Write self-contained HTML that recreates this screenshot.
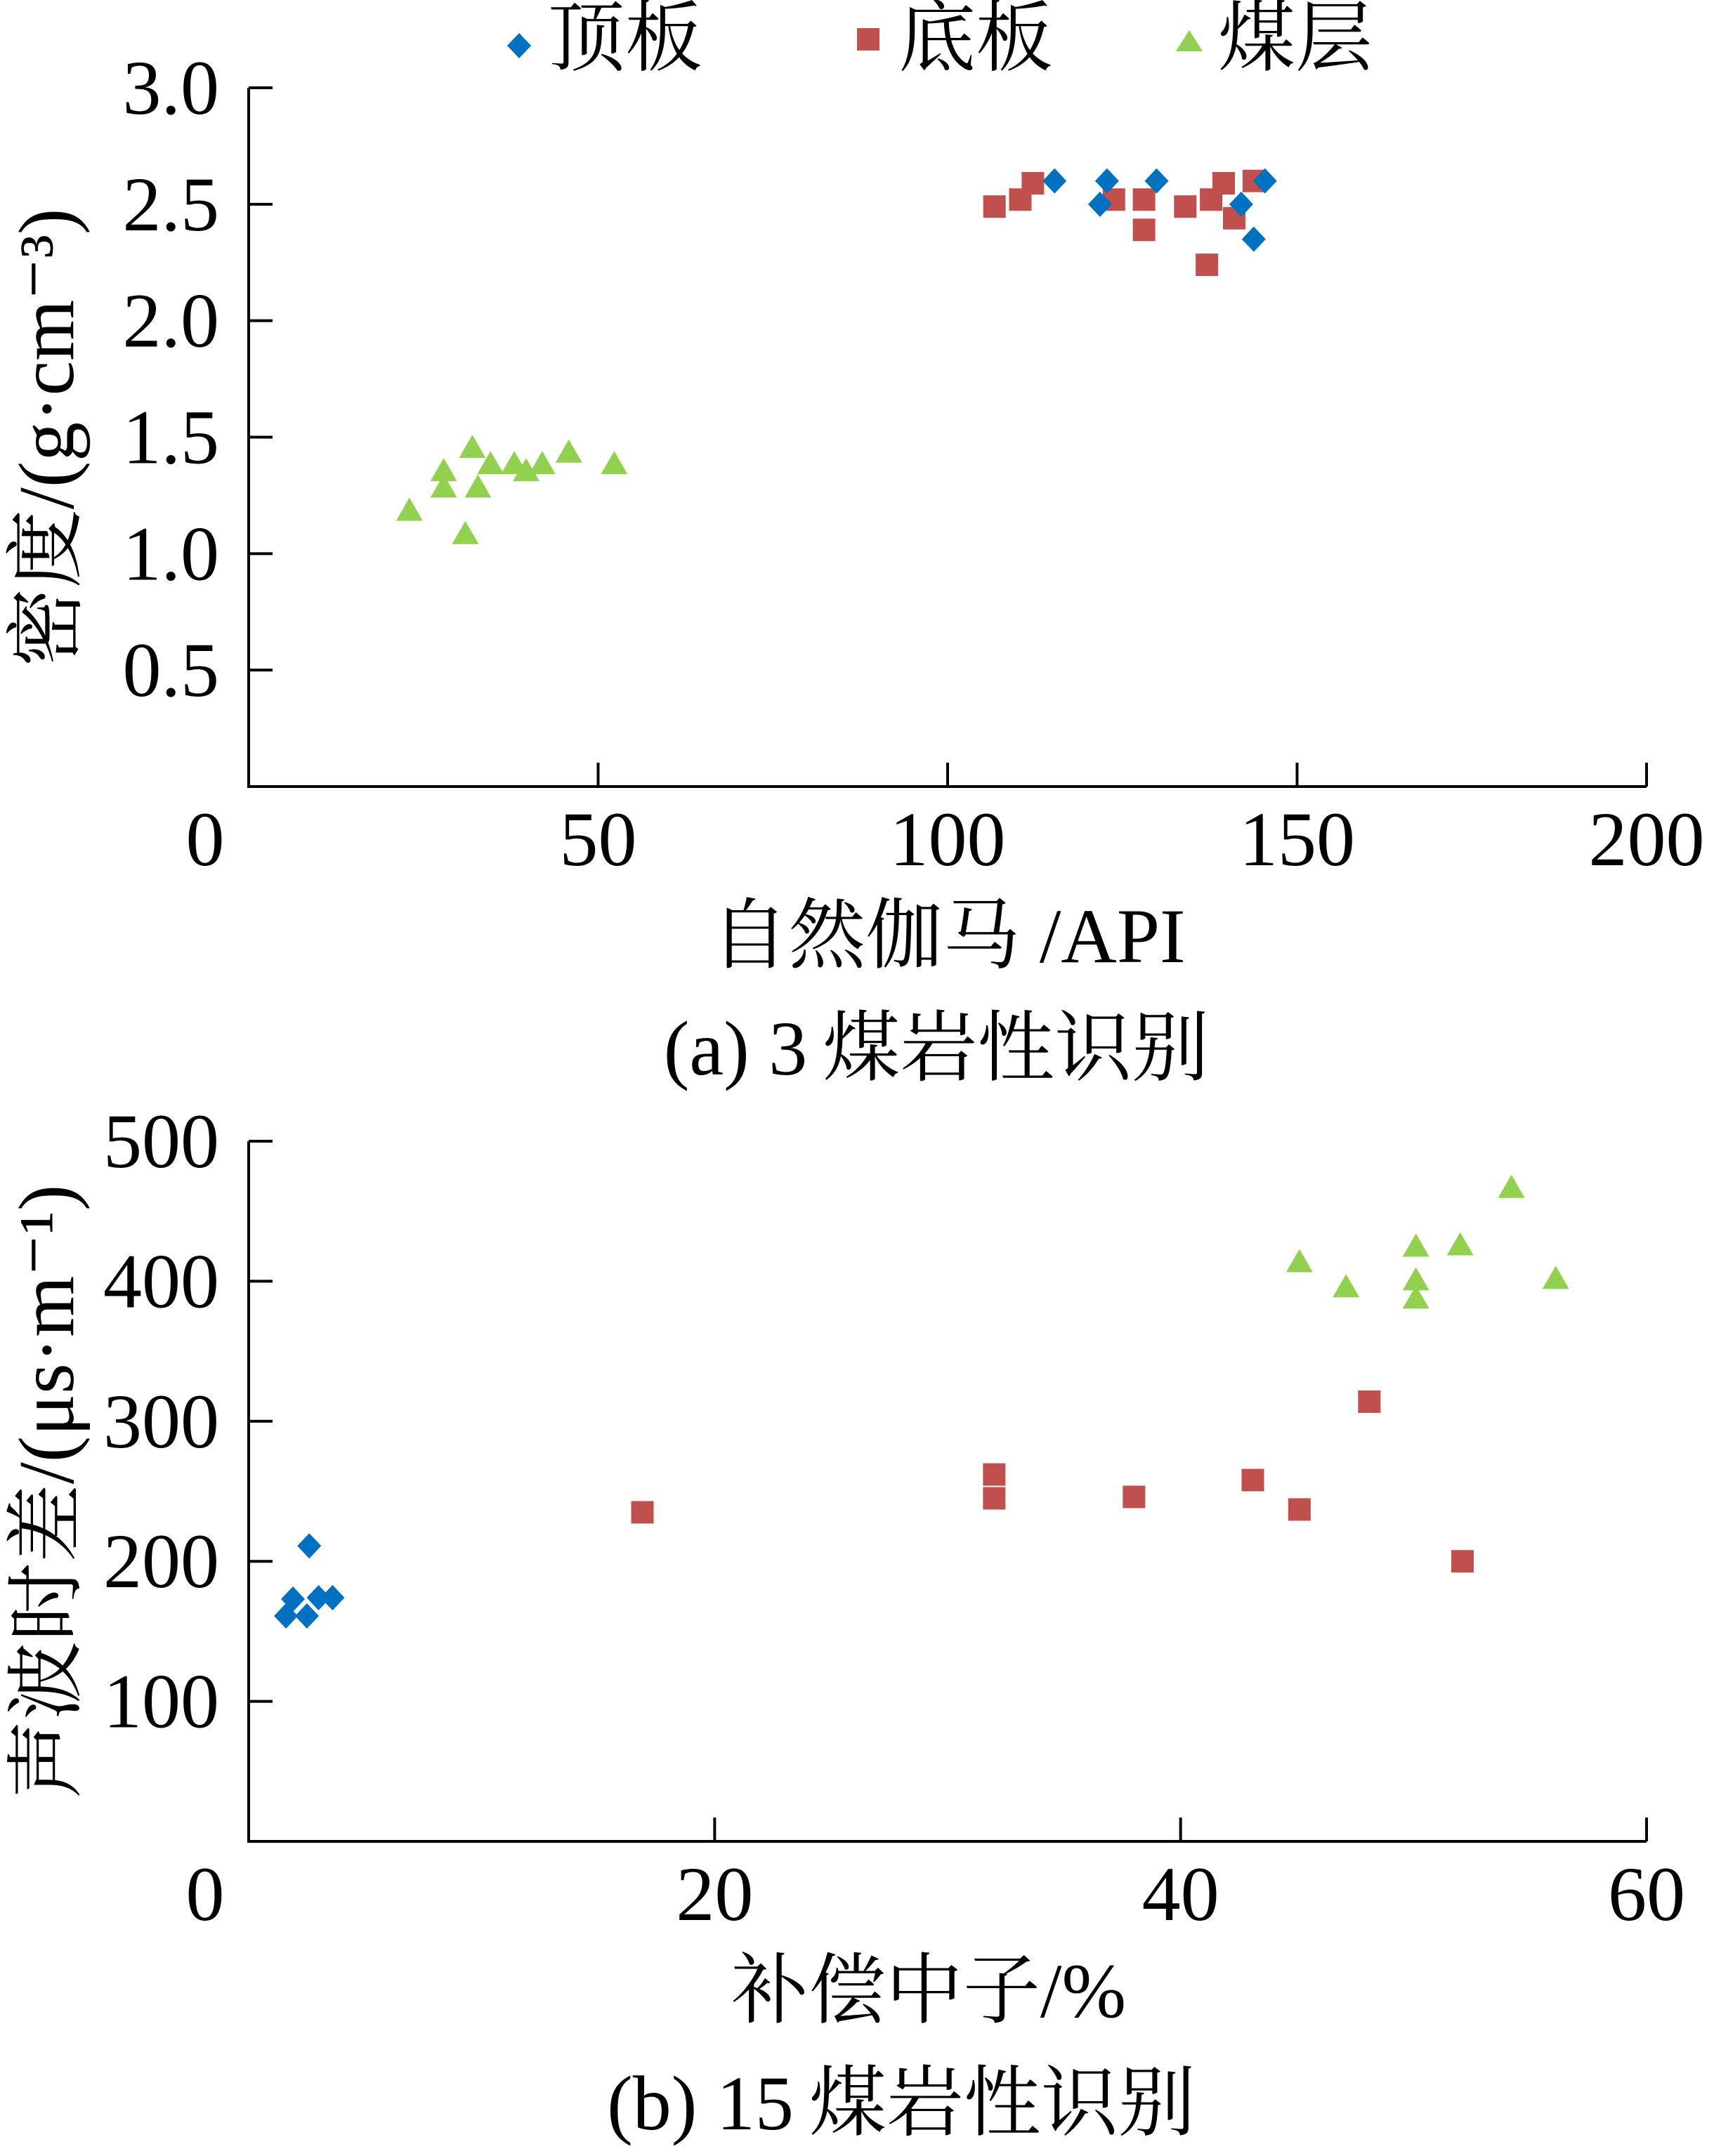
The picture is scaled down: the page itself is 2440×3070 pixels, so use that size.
<!DOCTYPE html>
<html><head><meta charset="utf-8"><style>
html,body{margin:0;padding:0;background:#fff}
svg{display:block}
text{font-family:"Liberation Serif","Noto Serif CJK SC","Noto Sans CJK SC",serif;fill:#000}
</style></head><body>
<svg id="c" width="2440" height="3070" viewBox="0 0 2440 3070">
<g>
  <path d="M739 47 L756 65 L739 83 L722 65 Z" fill="#0070C0"/>
  <text x="780" y="92" font-size="110">顶板</text>
  <rect x="1220" y="40" width="32" height="32" fill="#C0504D"/>
  <text x="1279" y="92" font-size="110">底板</text>
  <path d="M1693 43 L1712 73 L1674 73 Z" fill="#92D050"/>
  <text x="1734" y="92" font-size="110">煤层</text>
</g>
<g id="ga"></g>
<g id="gb"></g>
</svg>
<script>
// Chart (a) data
const aXTicks=[0,50,100,150,200];
const aYTicks=[0.5,1.0,1.5,2.0,2.5,3.0];
const aYTickLabels=["0.5","1.0","1.5","2.0","2.5","3.0"];
const aRoofX=[115.3,122.8,121.8,129.9,142,143.8,145.4];
const aRoofY=[2.6,2.6,2.5,2.6,2.5,2.35,2.6];
const aFloorX=[106.7,110.4,112.2,123.8,128.1,128.1,134,137.7,139.5,137.1,141,143.8];
const aFloorY=[2.49,2.52,2.59,2.52,2.52,2.39,2.49,2.52,2.59,2.24,2.44,2.6];
const aCoalX=[23,27.9,27.9,32,32.8,31,34.6,38,39.7,42,45.8,52.3];
const aCoalY=[1.18,1.35,1.28,1.45,1.28,1.08,1.38,1.38,1.35,1.38,1.43,1.38];
// Chart (b) data
const bXTicks=[0,20,40,60];
const bYTicks=[100,200,300,400,500];
const bRoofX=[1.6,1.9,2.6,2.5,3.0,3.6];
const bRoofY=[161,173,211,161,174,174];
const bFloorX=[16.9,32,32,38,43.1,45.1,48.1,52.1];
const bFloorY=[235,262,245,246,258,237,314,200];
const bCoalX=[45.1,47.1,50.1,50.1,50.1,52,54.2,56.1];
const bCoalY=[413,395,424,400,387,425,466,401];

const NS="http://www.w3.org/2000/svg";
function mk(tag,attrs,parent,txt){const e=document.createElementNS(NS,tag);for(const k in attrs)e.setAttribute(k,attrs[k]);if(txt!==undefined)e.textContent=txt;parent.appendChild(e);return e;}

function chart(g,cfg){
  const L=354,R=2344,T=cfg.top,B=cfg.bottom;
  const sx=v=>L+(v-cfg.xmin)/(cfg.xmax-cfg.xmin)*(R-L);
  const sy=v=>B-(v-cfg.ymin)/(cfg.ymax-cfg.ymin)*(B-cfg.yTopPix);
  const ax=mk('path',{d:`M${L} ${T} L${L} ${B} L${R} ${B}`,fill:'none',stroke:'#000','stroke-width':4},g);
  
  
  cfg.xTicks.forEach((v,i)=>{
    const t=mk('line',{x1:sx(v),x2:sx(v),y1:B,y2:B-34,stroke:'#000','stroke-width':4},g);
    
    
    const tl=mk('text',{x:i===0?sx(v)-62:sx(v),y:B+112,'font-size':110,'text-anchor':'middle'},g,String(v));
    
    
  });
  cfg.yTicks.forEach((v,i)=>{
    const t=mk('line',{x1:L,x2:L+34,y1:sy(v),y2:sy(v),stroke:'#000','stroke-width':4},g);
    
    
    const tl=mk('text',{x:312,y:sy(v)+37,'font-size':110,'text-anchor':'end'},g,cfg.yLabels[i]);
    
    
  });
  const draw=(xs,ys,shape,name)=>{
    xs.forEach((x,i)=>{
      const cx=sx(x),cy=sy(ys[i]);let e;
      if(shape==='d')e=mk('path',{d:`M${cx} ${cy-18} L${cx+17} ${cy} L${cx} ${cy+18} L${cx-17} ${cy} Z`,fill:'#0070C0'},g);
      else if(shape==='s')e=mk('rect',{x:cx-16,y:cy-16,width:32,height:32,fill:'#C0504D'},g);
      else e=mk('path',{d:`M${cx} ${cy-20} L${cx+19} ${cy+13} L${cx-19} ${cy+13} Z`,fill:'#92D050'},g);
      
      
    });
  };
  draw(cfg.fx,cfg.fy,'s','point-floor');
  draw(cfg.rx,cfg.ry,'d','point-roof');
  draw(cfg.cx,cfg.cy,'t','point-coal');
  const xt=mk('text',{x:cfg.xtX,y:B+250,'font-size':110,'text-anchor':'middle'},g,cfg.xTitle);
  
  
  const yt=mk('text',{x:0,y:0,'font-size':112,'text-anchor':'middle',transform:`translate(104 ${cfg.ytY}) rotate(-90)`},g,cfg.yTitle);
  
  
  const cap=mk('text',{x:cfg.capX,y:B+410,'font-size':110,'text-anchor':'middle'},g,cfg.cap);
  
  
}
chart(document.getElementById('ga'),{top:125,bottom:1120,yTopPix:125,xmin:0,xmax:200,ymin:0,ymax:3,
  xTicks:aXTicks,yTicks:aYTicks,yLabels:aYTickLabels,rx:aRoofX,ry:aRoofY,fx:aFloorX,fy:aFloorY,cx:aCoalX,cy:aCoalY,
  xTitle:'自然伽马 /API',xtX:1350,yTitle:'密度/(g·cm⁻³)',ytY:623,cap:'(a)  3\u2009煤岩性识别',capX:1333});
chart(document.getElementById('gb'),{top:1625,bottom:2622,yTopPix:1625,xmin:0,xmax:60,ymin:0,ymax:500,
  xTicks:bXTicks,yTicks:bYTicks,yLabels:bYTicks.map(String),rx:bRoofX,ry:bRoofY,fx:bFloorX,fy:bFloorY,cx:bCoalX,cy:bCoalY,
  xTitle:'补偿中子/%',xtX:1322,yTitle:'声波时差/(μs·m⁻¹)',ytY:2124,cap:'(b)  15\u2009煤岩性识别',capX:1283});
</script>
</body></html>
